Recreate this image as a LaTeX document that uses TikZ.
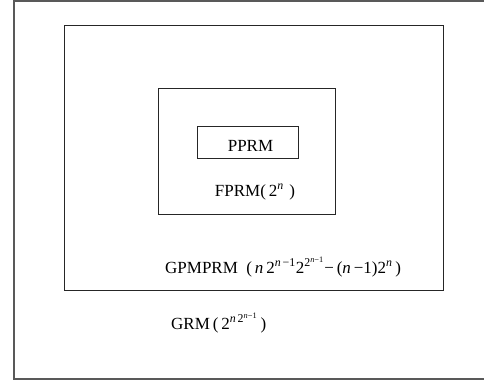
\documentclass[tikz,border=0pt]{standalone}
\usepackage{fontspec}
\setmainfont{Liberation Serif}
\newcommand{\su}[1]{\textsuperscript{#1}}
\begin{document}
\begin{tikzpicture}[x=1pt, y=-1pt, font=\fontsize{17}{20}\selectfont]
    \useasboundingbox (0,0) rectangle (484,381);
    \draw[gray!70!black, line width=1.2pt] (14,1) rectangle (487,379);
    \draw[black!85, line width=0.9pt] (64.5,25.7) rectangle (443.5,290.5);
    \draw[black!85, line width=0.9pt] (158.3,88.7) rectangle (335.3,214.5);
    \draw[black!85, line width=0.9pt] (197,126.7) rectangle (298,158.3);
    \node (pprm) at (250.5,146) {PPRM};
    \node (fprm) at (255,192) {FPRM(\,2\su{\textit{n}}\,\,)};
    \node[anchor=west, inner sep=0pt] (gpmprm) at (165,267) {GPMPRM\,\,\,(\,\textit{n}\,2\su{\textit{n}\,−1}2\su{2\su{\textit{n}−1}}−\,(\textit{n}\,−1)2\su{\textit{n}}\,)};
    \node[anchor=west, inner sep=0pt] (grm) at (171,323) {GRM\,(\,2\su{\textit{n}\,2\su{\textit{n}−1}}\,)};
    % Note: nested classes of Reed-Muller forms
\end{tikzpicture}
\end{document}
